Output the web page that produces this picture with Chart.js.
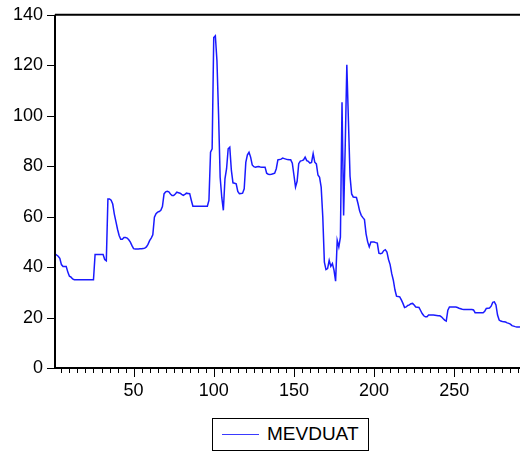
<!DOCTYPE html>
<html>
<head>
<meta charset="utf-8">
<script src="https://cdn.jsdelivr.net/npm/chart.js@4.4.0/dist/chart.umd.min.js"></script>
<style>
  body { margin: 0; background: #fff; }
  #wrap { position: relative; width: 520px; height: 454px; }
  #legend {
    position: absolute; left: 212px; top: 418px; width: 155px; height: 31px;
    border: 1px solid #000; background: #fff;
    font-family: "Liberation Sans", Arial, sans-serif; font-size: 19px; color: #000;
  }
  #legend .swatch { position: absolute; left: 9px; top: 15px; width: 37px; height: 0; border-top: 1.5px solid #3a3aff; }
  #legend .txt { position: absolute; left: 54px; top: 4px; }
</style>
</head>
<body>
<div id="wrap">
  <canvas id="myChart" width="520" height="454"></canvas>
  <div id="legend"><span class="swatch"></span><span class="txt">MEVDUAT</span></div>
</div>
<script>
// serie MEVDUAT, una observacion por punto (1..291)
const mevduat = [
  45.3, 44.8, 44.3, 43.5, 41.0, 40.2, 40.2, 40.2, 38.0, 36.4,
  36.0, 35.3, 35, 35, 35, 35, 35, 35, 35, 35,
  35, 35, 35, 35, 35, 45, 45, 45, 45, 45,
  45, 43, 42.5, 67, 67, 66.5, 65, 61, 58, 55,
  52.5, 51, 51, 51.7, 51.7, 51.5, 50.8, 49.9, 48.5, 47.3,
  47.2, 47.2, 47.2, 47.3, 47.3, 47.4, 47.5, 48, 49, 50.5,
  51.5, 52.8, 59.8, 61.2, 61.8, 62, 62.5, 64, 69, 69.8,
  70, 69.8, 69, 68.4, 68.4, 69, 69.7, 69.5, 69.3, 68.8,
  68.4, 68.8, 69.3, 69.2, 69.1, 66.5, 64.1, 64.1, 64.1, 64.1,
  64.1, 64.1, 64.1, 64.1, 64.1, 64.1, 66.4, 85.5, 86.9, 131,
  131.7, 121.8, 100.7, 75.6, 67.7, 62.5, 75, 79, 86.9, 87.5,
  78.3, 73.4, 73.2, 73, 70, 69.1, 69.2, 69.3, 71, 81.5,
  84.5, 85.5, 83.6, 80.5, 79.8, 79.6, 79.8, 79.9, 79.7, 79.6,
  79.6, 79.6, 77.2, 76.8, 76.7, 76.8, 77, 77.2, 79, 82.5,
  82.6, 82.8, 83.2, 83, 82.8, 82.6, 82.5, 82.5, 81.2, 76.5,
  71.7, 74, 81, 82, 82.2, 82.5, 83.6, 82.2, 81.9, 81.2,
  81.5, 85, 81.6, 80.9, 76.5, 75.6, 71.7, 60, 42, 39,
  39.4, 42.7, 40.3, 41.4, 38.8, 34.4, 50.6, 48, 51.9, 105.3,
  60.5, 88, 120.2, 98, 76, 69, 67.8, 67.7, 67.6, 65.1,
  62.2, 60.5, 59.6, 58.8, 53.2, 50, 48, 49.9, 49.9, 49.9,
  49.7, 49.5, 45.5, 45.3, 45.5, 46.5, 46.9, 46, 43, 41,
  37.4, 34.8, 31, 28.5, 28.3, 28.2, 27, 25.6, 24, 24.2,
  24.8, 25, 25.5, 25.6, 25, 24.2, 24.1, 24, 22.8, 21.6,
  20.7, 20.3, 20.3, 21, 21, 21, 21, 20.9, 20.8, 20.7,
  20.7, 20.3, 19.6, 19, 18.6, 22.9, 24.2, 24.2, 24.2, 24.2,
  24.2, 24, 23.7, 23.5, 23.3, 23.2, 23.2, 23.2, 23.2, 23.2,
  23.2, 23, 21.9, 21.9, 21.9, 21.9, 21.9, 21.9, 22.5, 23.6,
  23.7, 23.8, 24.5, 26, 26.2, 25, 21, 19, 18.6, 18.4,
  18.3, 18.2, 17.9, 17.7, 17.4, 16.8, 16.6, 16.4, 16.3, 16.3, 16.2
];
const obs = mevduat.map((v, i) => i + 1);
const yTicks = [0, 20, 40, 60, 80, 100, 120, 140];
const xLabels = [50, 100, 150, 200, 250];

const fontFam = '"Liberation Sans", Arial, sans-serif';

// marco y marcas de los ejes al estilo EViews
const framePlugin = {
  id: 'frame',
  afterDraw(chart) {
    const { ctx, chartArea: a, scales } = chart;
    ctx.save();
    ctx.strokeStyle = '#000';
    ctx.lineWidth = 2;
    ctx.beginPath();
    ctx.moveTo(a.left, a.top); ctx.lineTo(a.right, a.top);
    ctx.moveTo(a.left, a.top); ctx.lineTo(a.left, a.bottom);
    ctx.moveTo(a.left, a.bottom); ctx.lineTo(a.right, a.bottom);
    ctx.stroke();
    ctx.lineWidth = 1;
    ctx.beginPath();
    scales.y.ticks.forEach(t => {
      const y = Math.round(scales.y.getPixelForValue(t.value)) + 0.5;
      ctx.moveTo(a.left - 8, y); ctx.lineTo(a.left, y);
    });
    scales.x.ticks.forEach(t => {
      const x = Math.round(scales.x.getPixelForValue(t.value)) + 0.5;
      const len = t.value % 50 === 0 ? 9 : 5;
      ctx.moveTo(x, a.bottom); ctx.lineTo(x, a.bottom + len);
    });
    ctx.stroke();
    ctx.restore();
  }
};

const ctx = document.getElementById('myChart').getContext('2d');
const myChart = new Chart(ctx, {
  type: 'line',
  data: {
    datasets: [{
      label: 'MEVDUAT',
      data: obs.map((o, i) => ({ x: o, y: mevduat[i] })),
      borderColor: '#1a1aff',
      borderWidth: 1.5,
      pointRadius: 0,
      tension: 0,
      fill: false
    }]
  },
  options: {
    responsive: false,
    animation: false,
    layout: { padding: { top: 14, right: 0, bottom: 46, left: 0 } },
    plugins: { legend: { display: false }, tooltip: { enabled: false } },
    scales: {
      x: {
        type: 'linear',
        min: 1,
        max: 291,
        grid: { display: false },
        border: { display: false },
        afterBuildTicks(scale) {
          const t = [];
          for (let v = 5; v <= 290; v += 5) t.push({ value: v });
          scale.ticks = t;
        },
        afterFit(scale) {
          scale.height = 40;
          scale.paddingLeft = 0;
          scale.paddingRight = 0;
        },
        ticks: {
          autoSkip: false,
          maxRotation: 0,
          padding: 4,
          color: '#000',
          font: { family: fontFam, size: 18 },
          callback: v => xLabels.includes(v) ? String(v) : ''
        }
      },
      y: {
        min: 0,
        max: 140,
        grid: { display: false },
        border: { display: false },
        afterBuildTicks(scale) { scale.ticks = yTicks.map(v => ({ value: v })); },
        afterFit(scale) { scale.width = 55; },
        ticks: {
          padding: 4,
          color: '#000',
          font: { family: fontFam, size: 18 }
        }
      }
    }
  },
  plugins: [framePlugin]
});
</script>
</body>
</html>
